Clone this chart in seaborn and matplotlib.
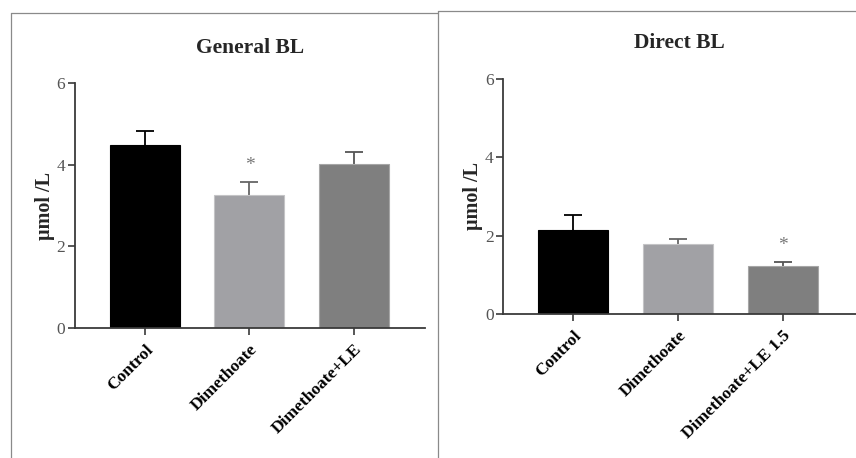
import matplotlib
matplotlib.use("Agg")
import matplotlib.pyplot as plt
from matplotlib.lines import Line2D
import seaborn as sns
import pandas as pd

# Serum bilirubin (mean and SEM) per treatment group
general_groups = ["Control", "Dimethoate", "Dimethoate+LE"]
general_mean = [4.49, 3.26, 4.01]
general_sem = [0.35, 0.31, 0.31]

direct_groups = ["Control", "Dimethoate", "Dimethoate+LE 1.5"]
direct_mean = [2.14, 1.78, 1.22]
direct_sem = [0.38, 0.14, 0.10]

general_title = "General BL"
direct_title = "Direct BL"
y_label = "μmol /L"
y_ticks = [0, 2, 4, 6]

bar_colors = ["#000000", "#a1a1a5", "#7f7f7f"]
edge_colors = ["#000000", "#c4c4c6", "#a6a6a6"]
err_colors = ["#000000", "#666666", "#555555"]

sns.set_theme(style="white")
plt.rcParams["font.family"] = ["Liberation Serif", "DejaVu Serif"]

fig = plt.figure(figsize=(8.56, 4.58), dpi=100)
W, H = 856, 458


def px_axes(x0, x1, ytop, ybot):
    return fig.add_axes([x0 / W, 1 - ybot / H, (x1 - x0) / W, (ybot - ytop) / H])


def draw_panel(ax, groups, mean, sem, title, star_idx, xmax):
    df = pd.DataFrame({"group": groups, "value": mean})
    sns.barplot(data=df, x="group", y="value", hue="group", palette=bar_colors,
                order=groups, hue_order=groups, errorbar=None, width=0.67,
                legend=False, ax=ax)
    for patch, ec in zip(ax.patches, edge_colors):
        patch.set_edgecolor(ec)
        patch.set_linewidth(0.8)
    # upper-only SEM whiskers
    for i, (m, s) in enumerate(zip(mean, sem)):
        _, caps, _ = ax.errorbar(i, m, yerr=[[0], [s]], fmt="none",
                                 ecolor=err_colors[i], elinewidth=1.3,
                                 capsize=6.5, capthick=1.3, zorder=0.5)
        caps[0].set_visible(False)
    ax.text(star_idx, mean[star_idx] + sem[star_idx] + 0.42, "*",
            ha="center", va="center", fontsize=14, color="#777777")
    ax.set_xlim(-0.67, xmax)
    ax.set_ylim(0, 6)
    ax.set_yticks(y_ticks)
    ax.set_xlabel("")
    ax.set_ylabel(y_label, fontsize=14.5, fontweight="bold", labelpad=1)
    ax.set_title(title, fontsize=15.5, fontweight="bold", pad=22)
    for side in ("top", "right"):
        ax.spines[side].set_visible(False)
    for side in ("left", "bottom"):
        ax.spines[side].set_color("#3a3a3a")
        ax.spines[side].set_linewidth(1.3)
    ax.tick_params(axis="both", direction="out", length=5, width=1.2,
                   color="#3a3a3a", left=True, bottom=True)
    ax.tick_params(axis="y", labelsize=12.5, labelcolor="#555555", pad=2)
    ax.tick_params(axis="x", labelsize=12.5, labelcolor="#000000", pad=5)
    for lab in ax.get_xticklabels():
        lab.set_rotation(45)
        lab.set_ha("right")
        lab.set_va("top")
        lab.set_rotation_mode("anchor")
        lab.set_fontweight("bold")


ax1 = px_axes(75, 425, 83.3, 327.7)
draw_panel(ax1, general_groups, general_mean, general_sem, general_title, 1, 2.68)

ax2 = px_axes(503.3, 856, 79, 314)
draw_panel(ax2, direct_groups, direct_mean, direct_sem, direct_title, 2, 2.70)

# Frames around the two panels
frame = dict(color="#8a8a8a", linewidth=0.9, transform=fig.transFigure)
fig.add_artist(Line2D([10.5 / W, 10.5 / W], [0, 1 - 13.3 / H], **frame))
fig.add_artist(Line2D([10.5 / W, 438.3 / W], [1 - 13.3 / H, 1 - 13.3 / H], **frame))
fig.add_artist(Line2D([438.3 / W, 438.3 / W], [0, 1 - 11.3 / H], **frame))
fig.add_artist(Line2D([438.3 / W, 1], [1 - 11.3 / H, 1 - 11.3 / H], **frame))

fig.savefig("out.png", dpi=100)
